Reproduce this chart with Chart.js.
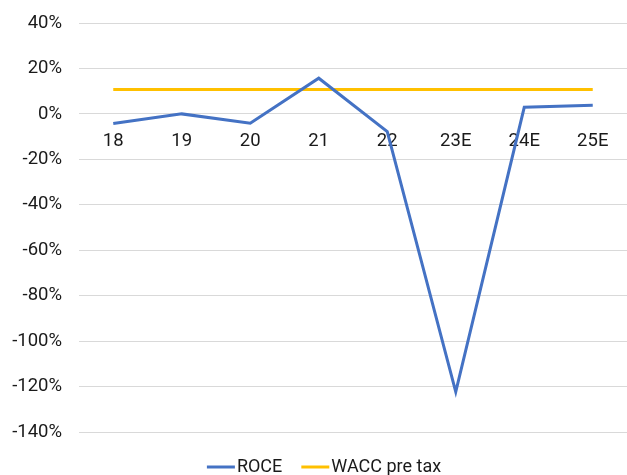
<!DOCTYPE html>
<html>
<head>
<meta charset="utf-8">
<script src="https://cdn.jsdelivr.net/npm/chart.js@4/dist/chart.umd.min.js"></script>
<style>
  html, body { margin: 0; padding: 0; background: #fff; }
  canvas { display: block; }
</style>
</head>
<body>
<canvas id="c" width="627" height="475"></canvas>
<script>
const categories = ['18', '19', '20', '21', '22', '23E', '24E', '25E'];
const roce = [-4.2, 0, -4.1, 15.7, -7.8, -122.3, 2.9, 3.8];
const wacc = [10.7, 10.7, 10.7, 10.7, 10.7, 10.7, 10.7, 10.7];
const yTicks = [40, 20, 0, -20, -40, -60, -80, -100, -120, -140];

const FONT = 'Roboto';
const TEXT = '#1a1a1a';
const BLUE = '#4472C4';
const YELLOW = '#FFC000';

const PLOT_TOP = 23;
const PLOT_RIGHT = 627;

const areaPlugin = {
  id: 'fixArea',
  afterLayout(chart) {
    const ca = chart.chartArea;
    ca.top = PLOT_TOP;
    ca.right = PLOT_RIGHT;
    ca.height = ca.bottom - ca.top;
    ca.width = ca.right - ca.left;
    const y = chart.scales.y;
    y.top = PLOT_TOP;
    y.height = y.bottom - y.top;
    y.configure();
    const x = chart.scales.x;
    x.right = PLOT_RIGHT;
    x.width = x.right - x.left;
    x.configure();
  }
};

const legendPlugin = {
  id: 'customLegend',
  afterDraw(chart) {
    const ctx = chart.ctx;
    const items = chart.data.datasets.map(d => ({ label: d.label, color: d.borderColor }));
    ctx.save();
    ctx.font = '18px ' + FONT;
    const lineW = 28, gapLT = 2, gapItems = 19;
    let total = 0;
    items.forEach((it, i) => {
      it.w = ctx.measureText(it.label).width;
      total += lineW + gapLT + it.w + (i ? gapItems : 0);
    });
    let x = 324 - total / 2;
    const y = 467;
    items.forEach(it => {
      ctx.strokeStyle = it.color;
      ctx.lineWidth = 3;
      ctx.beginPath();
      ctx.moveTo(x, y);
      ctx.lineTo(x + lineW, y);
      ctx.stroke();
      ctx.fillStyle = TEXT;
      ctx.textBaseline = 'middle';
      ctx.textAlign = 'left';
      ctx.fillText(it.label, x + lineW + gapLT, y);
      x += lineW + gapLT + it.w + gapItems;
    });
    ctx.restore();
  }
};

new Chart(document.getElementById('c'), {
  type: 'line',
  data: {
    labels: categories,
    datasets: [
      { label: 'ROCE', data: roce, borderColor: BLUE, backgroundColor: BLUE, borderWidth: 3, pointRadius: 0, tension: 0 },
      { label: 'WACC pre tax', data: wacc, borderColor: YELLOW, backgroundColor: YELLOW, borderWidth: 3, pointRadius: 0, tension: 0 }
    ]
  },
  options: {
    responsive: false,
    animation: false,
    layout: { padding: { top: 23, right: 0, bottom: 43, left: 0 } },
    plugins: {
      legend: { display: false },
      tooltip: { enabled: false }
    },
    scales: {
      x: {
        position: { y: 0 },
        offset: true,
        afterFit(scale) { scale.height = 0; },
        grid: { display: false, drawTicks: false },
        border: { display: false },
        ticks: { color: TEXT, font: { family: FONT, size: 18.5 }, padding: 16, maxRotation: 0, autoSkip: false }
      },
      y: {
        min: -140,
        max: 40,
        afterBuildTicks(scale) { scale.ticks = yTicks.map(v => ({ value: v })); },
        afterFit(scale) { scale.width = 79; },
        grid: { color: '#d9d9d9', lineWidth: 1, drawTicks: false },
        border: { display: false },
        ticks: {
          color: TEXT,
          font: { family: FONT, size: 18.5 },
          padding: 17,
          callback: v => v + '%'
        }
      }
    }
  },
  plugins: [areaPlugin, legendPlugin]
});
</script>
</body>
</html>
